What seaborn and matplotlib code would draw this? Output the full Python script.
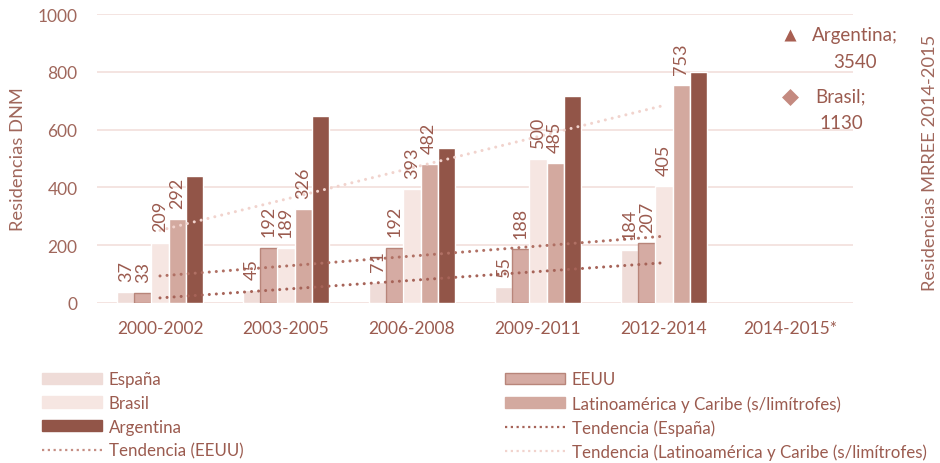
import numpy as np
import pandas as pd
import matplotlib
matplotlib.use("Agg")
import matplotlib.pyplot as plt
from matplotlib.patches import Patch
from matplotlib.lines import Line2D
import seaborn as sns

# Data
periodos = ["2000-2002", "2003-2005", "2006-2008", "2009-2011", "2012-2014", "2014-2015*"]
series = ["España", "EEUU", "Brasil", "Latinoamérica y Caribe (s/limítrofes)", "Argentina"]
espana = [37, 45, 71, 55, 184]
eeuu = [33, 192, 192, 188, 207]
brasil = [209, 189, 393, 500, 405]
latam = [292, 326, 482, 485, 753]
argentina = [439, 647, 536, 717, 798]

# secondary axis points (2014-2015*)
mrree_paises = ["Argentina", "Brasil"]
mrree_valores = [3540, 1130]
mrree_markers = ["^", "D"]

TXT = "#9b5b4f"
colores = {
    "España": "#efdcd8",
    "EEUU": "#d5aba3",
    "Brasil": "#f6e6e2",
    "Latinoamérica y Caribe (s/limítrofes)": "#d3a99f",
    "Argentina": "#925548",
}

sns.set_theme(style="white")
plt.rcParams["font.family"] = ["Lato", "DejaVu Sans"]

valores = [espana, eeuu, brasil, latam, argentina]
df = pd.DataFrame({
    "periodo": [p for v in valores for p in periodos[:len(v)]],
    "serie": [s for s, v in zip(series, valores) for _ in v],
    "valor": [x for v in valores for x in v],
})

fig = plt.figure(figsize=(9.4, 4.64), dpi=100)
ax = fig.add_axes([97 / 940, 1 - 304 / 464, (853 - 97) / 940, (304 - 15) / 464])

sns.barplot(data=df, x="periodo", y="valor", hue="serie", order=periodos,
            hue_order=series, palette=colores, width=0.68, gap=0,
            legend=False, ax=ax, saturation=1)

# EEUU bars have a darker outline
for bar in ax.containers[1]:
    bar.set_edgecolor("#b8857a")
    bar.set_linewidth(1)

for cont in ax.containers[:4]:
    ax.bar_label(cont, rotation=90, padding=8, color=TXT, fontsize=13)

# trend lines (linear fit, like the spreadsheet trendlines)
dots = (0, (0.01, 2.3))
pos = np.arange(5)
trend_styles = [
    (eeuu, "#b07064"),
    (espana, "#a66358"),
    (latam, "#f1d3cd"),
]
for vals, col in trend_styles:
    sns.regplot(x=pos, y=np.array(vals), scatter=False, ci=None, truncate=True,
                ax=ax, line_kws=dict(color=col, linestyle=dots, linewidth=2.2,
                                     dash_capstyle="round"))

ax.set_xlim(-0.5, 5.5)
ax.set_ylim(0, 1000)
ax.set_yticks(range(0, 1001, 200))
ax.grid(axis="y", color="#f2dfdb", linewidth=1.2)
ax.set_axisbelow(True)
for s in ax.spines.values():
    s.set_visible(False)
ax.set_xlabel("")
ax.set_ylabel("Residencias DNM", color="#a0675c", fontsize=13.2)
ax.yaxis.set_label_coords((18 - 97) / 756, 0.5)
ax.yaxis.label.set_va("center")
ax.tick_params(axis="x", colors=TXT, labelsize=12.5, pad=12, length=0)
ax.tick_params(axis="y", colors="#a0675c", labelsize=12.5, pad=14, length=0)

# secondary axis
ax2 = ax.twinx()
ax2.set_ylim(-6900, 4350)
ax2.set_yticks([])
for s in ax2.spines.values():
    s.set_visible(False)
for pais, val, mk in zip(mrree_paises, mrree_valores, mrree_markers):
    ax2.scatter([5], [val], marker=mk, s=75, color="#a85f52" if mk == "^" else "#c48a80",
                zorder=3, linewidths=0)
ax2.annotate(f"{mrree_paises[0]};\n{mrree_valores[0]}", (5, mrree_valores[0]),
             xytext=(46.8, 6.5), textcoords="offset points", ha="center", va="top",
             color=TXT, fontsize=13.5, multialignment="center", linespacing=1.75)
ax2.annotate(f"{mrree_paises[1]};\n{mrree_valores[1]}", (5, mrree_valores[1]),
             xytext=(36.7, 7), textcoords="offset points", ha="center", va="top",
             color=TXT, fontsize=13.5, multialignment="center", linespacing=1.75)
fig.text(930 / 940, 1 - 163 / 464, "Residencias MRREE 2014-2015", rotation=90,
         ha="center", va="center", color="#a0675c", fontsize=13.2)

# legend in two columns
def bar_h(col, edge=None):
    return Patch(facecolor=col, edgecolor=edge or col)

leg_dots = (0, (1, 1.6))
h1 = [bar_h(colores["España"]), bar_h(colores["Brasil"]), bar_h(colores["Argentina"]),
      Line2D([], [], color="#c58e84", linestyle=leg_dots, linewidth=1.6)]
l1 = ["España", "Brasil", "Argentina", "Tendencia (EEUU)"]
h2 = [bar_h(colores["EEUU"], "#b8857a"), bar_h(colores[series[3]]),
      Line2D([], [], color="#a66358", linestyle=leg_dots, linewidth=1.6),
      Line2D([], [], color="#f1d3cd", linestyle=leg_dots, linewidth=1.6)]
l2 = ["EEUU", "Latinoamérica y Caribe (s/limítrofes)", "Tendencia (España)",
      "Tendencia (Latinoamérica y Caribe (s/limítrofes)"]

leg_font = {"family": ["Lato"], "size": 12.2}
for hs, ls, x0 in [(h1, l1, 34), (h2, l2, 497)]:
    leg = fig.legend(hs, ls, loc="upper left", bbox_to_anchor=(x0 / 940, 1 - 364 / 464),
                     frameon=False, prop=leg_font, handlelength=3.5, handleheight=0.65,
                     handletextpad=0.4, labelspacing=0.45, borderpad=0, ncol=1)
    for t in leg.get_texts():
        t.set_color(TXT)

fig.savefig("out.png", dpi=100, facecolor="white")
